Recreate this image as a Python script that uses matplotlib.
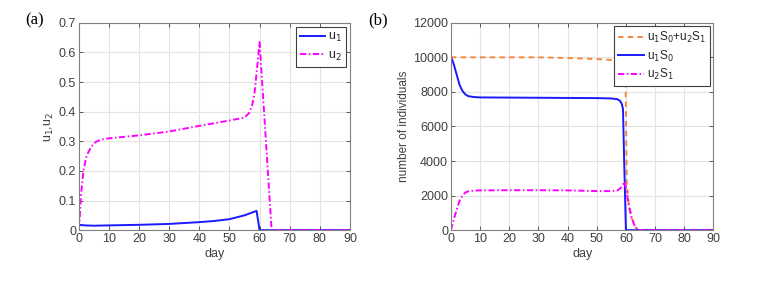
import numpy as np
import matplotlib
matplotlib.use("Agg")
import matplotlib.pyplot as plt

plt.rcParams['font.family'] = ['Liberation Sans', 'DejaVu Sans']

# panel (a): controls
day_a1 = [0, 2, 5, 10, 20, 30, 40, 45, 50, 55, 59, 60, 90]
u1 = [0.018, 0.016, 0.015, 0.016, 0.018, 0.021, 0.027, 0.031, 0.037, 0.05, 0.065, 0.0, 0.0]
day_a2 = [0, 0.7, 1.5, 2.5, 4, 5, 6, 8, 10, 20, 30, 40, 50, 55, 56.5, 57.5, 58.3, 59.2, 60, 64, 90]
u2 = [0, 0.12, 0.2, 0.25, 0.28, 0.293, 0.30, 0.307, 0.31, 0.32, 0.333, 0.352, 0.37, 0.38, 0.395, 0.42, 0.46, 0.55, 0.635, 0.0, 0.0]

# panel (b): individuals
day_b1 = [0, 10, 20, 30, 40, 50, 55, 58, 59, 59.8, 60.3, 61, 62, 63, 64, 90]
total = [10000, 10000, 10000, 10000, 9960, 9900, 9850, 9800, 9760, 9700, 2600, 1500, 700, 250, 0, 0]
day_b2 = [0, 0.5, 1, 2, 3, 4, 5, 6, 8, 10, 20, 30, 40, 50, 55, 57, 58, 58.6, 59, 59.4, 60, 90]
u1S0 = [10000, 9850, 9600, 9000, 8400, 8050, 7850, 7750, 7700, 7680, 7670, 7660, 7650, 7640, 7620, 7580, 7480, 7300, 7000, 4000, 0, 0]
day_b3 = [0, 1, 2, 3, 4, 5, 6, 8, 10, 20, 30, 40, 50, 55, 57, 58, 59, 59.6, 60.3, 61, 62, 63, 64, 90]
u2S1 = [0, 600, 1200, 1700, 2000, 2180, 2250, 2290, 2300, 2310, 2310, 2300, 2260, 2260, 2300, 2400, 2650, 2800, 2200, 1400, 700, 250, 0, 0]

tick_color = '#404040'
grid_color = '#e3e3e3'
dashdot = (0, (3.2, 1.3, 0.8, 1.3))

fig = plt.figure(figsize=(7.59, 2.81), dpi=100)
ax1 = fig.add_axes([0.104, 0.181, 0.357, 0.738])
ax2 = fig.add_axes([0.594, 0.181, 0.346, 0.738])

ax1.plot(day_a1, u1, color='#1a1aff', lw=1.4, label='u$_1$')
ax1.plot(day_a2, u2, color='#ff00ff', lw=1.4, ls=dashdot, label='u$_2$')
ax1.set_ylim(0, 0.7)
ax1.set_yticks(np.arange(0, 0.71, 0.1))
ax1.set_yticklabels(['0', '0.1', '0.2', '0.3', '0.4', '0.5', '0.6', '0.7'])
ax1.set_ylabel('u$_1$,u$_2$', fontsize=9, color=tick_color, labelpad=2)
leg1 = ax1.legend(loc='upper right', fontsize=9, fancybox=False, framealpha=1,
                  borderaxespad=0.3, handlelength=2.0, handletextpad=0.2,
                  labelspacing=0.45, borderpad=0.35)

ax2.plot(day_b1, total, color='#f5873b', lw=1.4, ls=(0, (2.8, 2.2)), label='u$_1$S$_0$+u$_2$S$_1$')
ax2.plot(day_b2, u1S0, color='#1a1aff', lw=1.4, label='u$_1$S$_0$')
ax2.plot(day_b3, u2S1, color='#ff00ff', lw=1.4, ls=dashdot, label='u$_2$S$_1$')
ax2.set_ylim(0, 12000)
ax2.set_yticks(range(0, 12001, 2000))
ax2.set_ylabel('number of individuals', fontsize=8.5, color=tick_color, labelpad=2)
leg2 = ax2.legend(loc='upper right', fontsize=8.5, fancybox=False, framealpha=1,
                  borderaxespad=0.3, handlelength=2.2, handletextpad=0.3,
                  labelspacing=0.3, borderpad=0.3)

for ax, leg in [(ax1, leg1), (ax2, leg2)]:
    ax.set_xlim(0, 90)
    ax.set_xticks(range(0, 91, 10))
    ax.set_xlabel('day', fontsize=9, color=tick_color, labelpad=2)
    ax.grid(True, color=grid_color, lw=0.8)
    ax.set_axisbelow(True)
    ax.tick_params(labelsize=9, colors=tick_color, direction='in', length=3, width=0.6,
                   top=True, right=True, pad=2)
    for s in ax.spines.values():
        s.set_color('#808080')
        s.set_linewidth(0.8)
    leg.get_frame().set_edgecolor('#404040')
    leg.get_frame().set_linewidth(0.8)
    for t in leg.get_texts():
        t.set_color('#262626')

fig.text(25 / 759, 1 - 24 / 281, '(a)', fontsize=12, family='Liberation Serif')
fig.text(368 / 759, 1 - 24 / 281, '(b)', fontsize=12, family='Liberation Serif')

fig.savefig('out.png', dpi=100)
